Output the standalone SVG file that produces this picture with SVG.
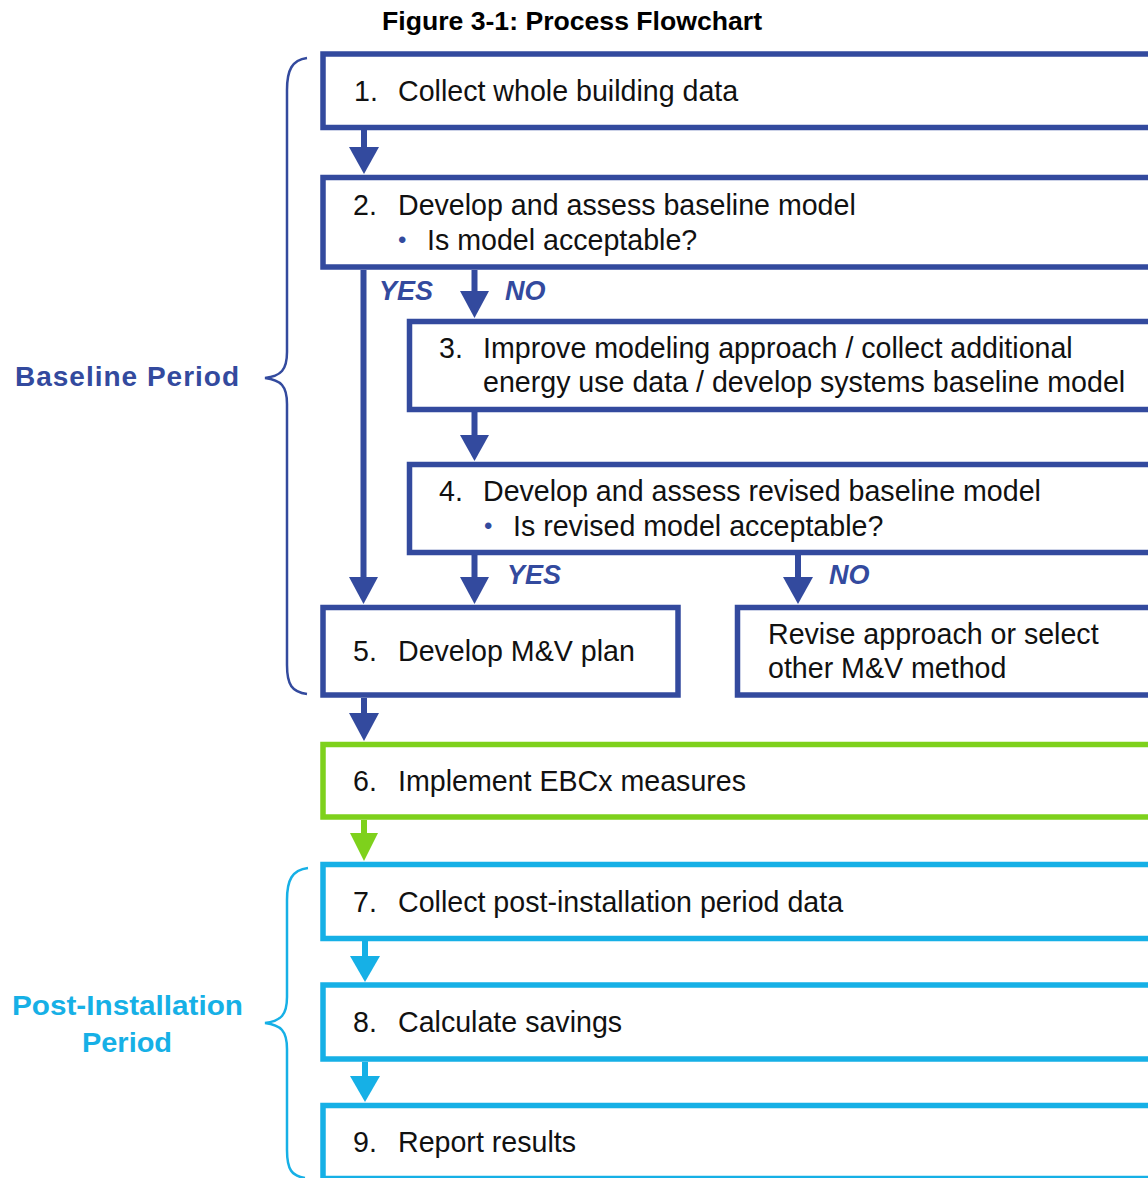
<svg xmlns="http://www.w3.org/2000/svg" width="1148" height="1178" viewBox="0 0 1148 1178">
<style>
.bx{fill:#fff;stroke-width:5.5}
.b{stroke:#334a9e}
.g{stroke:#7ed11c}
.c{stroke:#16b0e6}
.t{font-family:"Liberation Sans",Arial,sans-serif;font-size:28.6px;fill:#111}
.bul{font-family:"Liberation Sans",Arial,sans-serif;font-size:24px;fill:#334a9e}
.lab{font-family:"Liberation Sans",Arial,sans-serif;font-size:27px;font-weight:bold;font-style:italic;fill:#334a9e}
.per{font-family:"Liberation Sans",Arial,sans-serif;font-size:28px;font-weight:bold}
.ln{stroke-width:6;fill:none}
.brace{fill:none;stroke-width:2.5}
</style>
<rect width="1148" height="1178" fill="#fff"/>
<text x="382" y="30" font-family="Liberation Sans,Arial,sans-serif" font-size="26" font-weight="bold" fill="#000" textLength="380" lengthAdjust="spacingAndGlyphs">Figure 3-1: Process Flowchart</text>

<g id="brace-baseline">
<path class="brace b" d="M307,58 C292,60 287,70 287,90 L287,352 C287,370 281,376 265,378 C281,380 287,386 287,404 L287,665 C287,685 292,692 307,694"/>
<text class="per" x="15" y="386" fill="#334a9e" textLength="224" lengthAdjust="spacing">Baseline Period</text>
</g>
<g id="brace-post">
<path class="brace c" d="M308,868 C292,870 287,880 287,900 L287,997 C287,1015 281,1021 265,1023 C281,1025 287,1031 287,1049 L287,1150 C287,1170 292,1176 305,1178"/>
<text class="per" x="12" y="1015" fill="#16b0e6" font-size="30" textLength="231" lengthAdjust="spacingAndGlyphs">Post-Installation</text>
<text class="per" x="82" y="1052" fill="#16b0e6" font-size="30" textLength="90" lengthAdjust="spacingAndGlyphs">Period</text>
</g>

<g id="connectors">
<g fill="#334a9e">
<line class="ln b" x1="364" y1="130" x2="364" y2="149"/>
<polygon points="349,147 379,147 364,174"/>
<line class="ln b" x1="363.5" y1="270" x2="363.5" y2="579"/>
<polygon points="349,577 378,577 363.5,604"/>
<line class="ln b" x1="474.5" y1="270" x2="474.5" y2="293"/>
<polygon points="460,291 489,291 474.5,318"/>
<line class="ln b" x1="474.5" y1="412" x2="474.5" y2="437"/>
<polygon points="460,435 489,435 474.5,461"/>
<line class="ln b" x1="474.5" y1="555" x2="474.5" y2="579"/>
<polygon points="460,577 489,577 474.5,604"/>
<line class="ln b" x1="798" y1="555" x2="798" y2="579"/>
<polygon points="783,577 813,577 798,604"/>
<line class="ln b" x1="364" y1="698" x2="364" y2="715"/>
<polygon points="349,713 379,713 364,741"/>
</g>
<line class="ln g" x1="364" y1="820" x2="364" y2="835"/>
<polygon fill="#7ed11c" points="350,833 378,833 364,861"/>
<g fill="#16b0e6">
<line class="ln c" x1="365" y1="941" x2="365" y2="958"/>
<polygon points="350,956 380,956 365,982"/>
<line class="ln c" x1="365" y1="1062" x2="365" y2="1078"/>
<polygon points="350,1076 380,1076 365,1102"/>
</g>
<text class="lab" x="379" y="300">YES</text>
<text class="lab" x="505" y="300">NO</text>
<text class="lab" x="507" y="584">YES</text>
<text class="lab" x="829" y="584">NO</text>
</g>

<g id="n1">
<rect class="bx b" x="323" y="54" width="840" height="73.5"/>
<text class="t" x="354" y="101">1.</text>
<text class="t" x="398" y="101">Collect whole building data</text>
</g>
<g id="n2">
<rect class="bx b" x="323" y="177.5" width="840" height="89.5"/>
<text class="t" x="353" y="215">2.</text>
<text class="t" x="398" y="215">Develop and assess baseline model</text>
<text class="bul" x="398" y="248">•</text>
<text class="t" x="427" y="250">Is model acceptable?</text>
</g>
<g id="n3">
<rect class="bx b" x="409.5" y="321.5" width="760" height="88"/>
<text class="t" x="439" y="358">3.</text>
<text class="t" x="483" y="358">Improve modeling approach / collect additional</text>
<text class="t" x="483" y="392">energy use data / develop systems baseline model</text>
</g>
<g id="n4">
<rect class="bx b" x="409.5" y="464.5" width="760" height="88"/>
<text class="t" x="439" y="501">4.</text>
<text class="t" x="483" y="501">Develop and assess revised baseline model</text>
<text class="bul" x="484" y="534">•</text>
<text class="t" x="513" y="536">Is revised model acceptable?</text>
</g>
<g id="n5">
<rect class="bx b" x="323" y="607.5" width="355" height="87.5"/>
<text class="t" x="353" y="661">5.</text>
<text class="t" x="398" y="661">Develop M&amp;V plan</text>
</g>
<g id="n-revise">
<rect class="bx b" x="737.5" y="607.5" width="430" height="87.5"/>
<text class="t" x="768" y="644">Revise approach or select</text>
<text class="t" x="768" y="678">other M&amp;V method</text>
</g>
<g id="n6">
<rect class="bx g" x="323" y="744.5" width="840" height="72.5"/>
<text class="t" x="353" y="791">6.</text>
<text class="t" x="398" y="791">Implement EBCx measures</text>
</g>
<g id="n7">
<rect class="bx c" x="323" y="864.5" width="840" height="74"/>
<text class="t" x="353" y="912">7.</text>
<text class="t" x="398" y="912">Collect post-installation period data</text>
</g>
<g id="n8">
<rect class="bx c" x="323" y="985" width="840" height="74"/>
<text class="t" x="353" y="1032">8.</text>
<text class="t" x="398" y="1032">Calculate savings</text>
</g>
<g id="n9">
<rect class="bx c" x="323" y="1105.5" width="840" height="73"/>
<text class="t" x="353" y="1152">9.</text>
<text class="t" x="398" y="1152">Report results</text>
</g>
</svg>
